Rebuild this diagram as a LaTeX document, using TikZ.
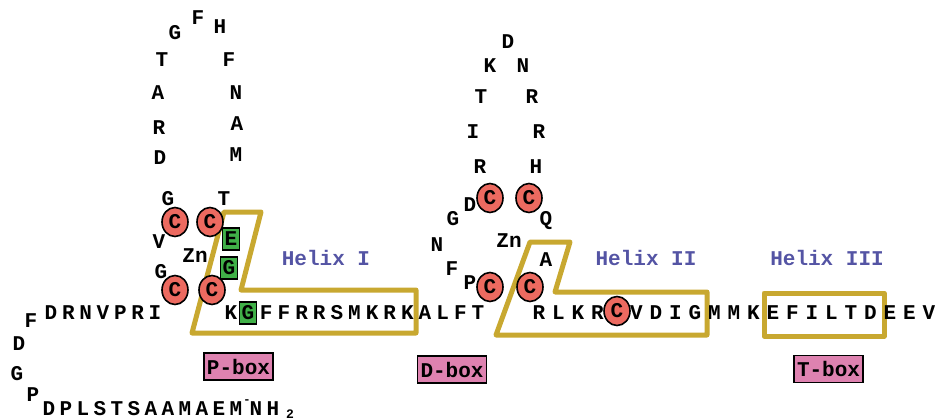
\documentclass[tikz,border=0pt]{standalone}
\usepackage{fontspec}
\setmonofont{Liberation Mono}
\usetikzlibrary{shapes.geometric}
\definecolor{cysRed}{RGB}{236,106,96}
\definecolor{zfGreen}{RGB}{64,176,72}
\definecolor{helixGold}{RGB}{200,168,48}
\definecolor{boxPink}{RGB}{222,130,176}
\definecolor{helixBlue}{RGB}{84,84,164}
\newcommand{\aafont}{\ttfamily\bfseries\fontsize{21}{21}\selectfont}

\begin{document}
\begin{tikzpicture}[
    x=1pt,y=-1pt,
    aa/.style={inner sep=0pt,font=\aafont},
    cys/.style={ellipse,draw,line width=1.6pt,fill=cysRed,minimum width=26pt,minimum height=29pt,inner sep=0pt,font=\aafont},
    grn/.style={draw,line width=1.4pt,fill=zfGreen,minimum width=17pt,minimum height=22pt,inner sep=0pt,font=\aafont},
    helix/.style={draw=helixGold,line width=5pt,line join=round},
    hlabel/.style={inner sep=0pt,text=helixBlue,font=\aafont},
    boxlabel/.style={draw,line width=1.8pt,fill=boxPink,minimum width=69pt,minimum height=27pt,inner sep=0pt,font=\aafont}
  ]
    \useasboundingbox (0,0) rectangle (939,420);
    % helix outlines
    \draw[helix] (224,212) -- (261,212) -- (241,290) -- (416,290) -- (416,333) -- (192,333) -- cycle;
    \draw[helix] (530,242) -- (570,242) -- (555,292) -- (707,292) -- (707,335) -- (496,335) -- cycle;
    \draw[helix] (764,293) rectangle (884,336);
    \node[hlabel] (h1) at (326,258) {Helix I};
    \node[hlabel] (h2) at (646,258) {Helix II};
    \node[hlabel] (h3) at (827,258) {Helix III};
    % finger 1
    \foreach \l/\x/\y [count=\i] in {G/175/33,F/198/18,H/220/27,T/162/60,F/229/60,A/158/93,N/236/93,
        R/159/128,A/237/124,D/160/158,M/236/155,G/168/199,T/224/199,V/159/242,G/161/272}
      \node[aa] (fa\i) at (\x,\y) {\l};
    \node[aa] (zn1) at (195,256) {Zn};
    \node[cys] (c1) at (175,222) {C};
    \node[cys] (c2) at (210,222) {C};
    \node[cys] (c3) at (175,290) {C};
    \node[cys] (c4) at (212,290) {C};
    \node[grn] (ge) at (231,239) {E};
    \node[grn] (gg) at (229,268) {G};
    % finger 2
    \foreach \l/\x/\y [count=\i] in {D/508/42,K/490/66,N/523/66,T/481/97,R/532/97,I/473/132,R/539/132,
        R/480/167,H/536/167,D/470/205,G/453/219,Q/546/221,N/437/245,A/546/260,F/452/269,P/470/283}
      \node[aa] (fb\i) at (\x,\y) {\l};
    \node[aa] (zn2) at (509,241) {Zn};
    \node[cys] (c5) at (490,198) {C};
    \node[cys] (c6) at (529,198) {C};
    \node[cys] (c7) at (490,287) {C};
    \node[cys] (c8) at (530,287) {C};
    % main chain
    \foreach \l [count=\i from 0] in {D,R,N,V,P,R,I}
      \node[aa] (ra\i) at (51+17.33*\i,313) {\l};
    \node[aa] (rb0) at (231,313) {K};
    \node[grn] (rb1) at (248,313) {G};
    \foreach \l [count=\i from 2] in {F,F,R,R,S,M,K,R,K,A,L,F,T}
      \node[aa] (rb\i) at (231+17.64*\i,313) {\l};
    \foreach \l [count=\i from 0] in {R,L,K,R}
      \node[aa] (rc\i) at (539+19.5*\i,313) {\l};
    \node[cys] (rc4) at (617,311) {C};
    \foreach \l [count=\i from 5] in {V,D,I,G,M,M,K,E,F,I,L,T,D,E,E,V}
      \node[aa] (rc\i) at (539+19.5*\i,313) {\l};
    % N-terminal tail
    \node[aa] (ta) at (31,321) {F};
    \node[aa] (tb) at (19,344) {D};
    \node[aa] (tc) at (17,374) {G};
    \node[aa] (td) at (33,395) {P};
    \foreach \l [count=\i from 0] in {D,P,L,S,T,S,A,A,M,A,E,M}
      \node[aa] (rd\i) at (49+17*\i,409) {\l};
    \node[aa,font=\ttfamily\bfseries\fontsize{12}{12}\selectfont] (dash) at (247,402) {-};
    \node[aa] (nn) at (256,409) {N};
    \node[aa] (nh) at (273,409) {H};
    \node[aa,font=\ttfamily\bfseries\fontsize{13}{13}\selectfont] (n2) at (290,414) {2};
    % boxes
    \node[boxlabel] (pbox) at (238.5,366.5) {P-box};
    \node[boxlabel] (dbox) at (452,369.5) {D-box};
    \node[boxlabel] (tbox) at (828.5,369) {T-box};
  \end{tikzpicture}
\end{document}
